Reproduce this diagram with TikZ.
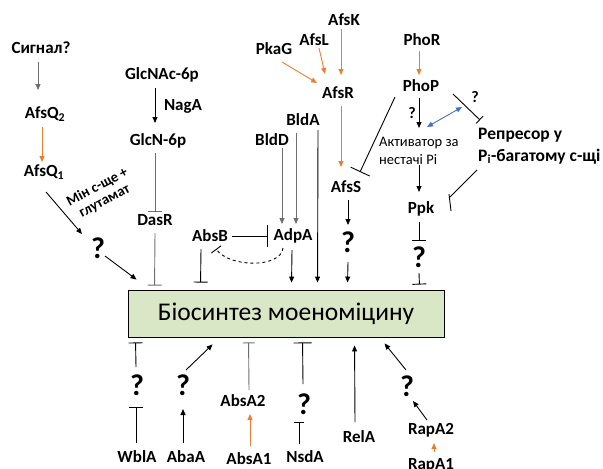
\documentclass[tikz,border=0pt]{standalone}
\usepackage{fontspec}
\setmainfont{Carlito}
\usetikzlibrary{arrows.meta,calc}
\definecolor{org}{HTML}{ED7D31}
\definecolor{blu}{HTML}{4472C4}
\definecolor{boxg}{HTML}{D9E7C7}
\definecolor{gry}{HTML}{6E6E6E}
\begin{document}
\begin{tikzpicture}[x=1pt,y=-1pt,
  lbl/.style={font=\bfseries\fontsize{17}{19}\selectfont, inner sep=0pt},
  qm/.style={font=\bfseries\fontsize{30}{30}\selectfont, inner sep=0pt},
  qs/.style={font=\bfseries\fontsize{16}{18}\selectfont, inner sep=0pt},
  ln/.style={line width=0.9pt},
  arr/.style={ln, -{Triangle[length=6pt,width=5pt]}},
  oarr/.style={arr, draw=org},
  inh/.style={ln, -{Bar[width=#1]}},
  inh/.default=14pt
]
\useasboundingbox (0,0) rectangle (603,469);

% main box
\node[draw=black, line width=0.9pt, fill=boxg, minimum width=316pt, minimum height=47pt, inner sep=0pt,
      font=\fontsize{25.5}{27}\selectfont] (box) at (286,313.5) {Біосинтез моеноміцину};

% left column
\node[lbl] (sig) at (41,48) {Сигнал?};
\node[lbl] (q2) at (45,114) {AfsQ\textsubscript{2}};
\node[lbl] (q1) at (44,172) {AfsQ\textsubscript{1}};
\node[font=\bfseries\fontsize{14.5}{15.5}\selectfont, rotate=28, align=center, inner sep=0pt] (min) at (101,194) {Мін с-ще +\\глутамат};
\node[qm] (qa) at (98,248) {?};

% GlcNAc column
\node[lbl] (glcnac) at (162,75) {GlcNAc-6p};
\node[lbl] (naga) at (183,106) {NagA};
\node[lbl] (glcn) at (158,141) {GlcN-6p};
\node[lbl] (dasr) at (155,220) {DasR};

% middle
\node[lbl] (absb) at (210,236) {AbsB};
\node[lbl] (adpa) at (293,236) {AdpA};
\node[lbl] (bldd) at (272,140) {BldD};
\node[lbl] (blda) at (303,120) {BldA};
\node[lbl] (afsk) at (344,20) {AfsK};
\node[lbl] (afsl) at (314,40) {AfsL};
\node[lbl] (pkag) at (274,49) {PkaG};
\node[lbl] (afsr) at (338,93) {AfsR};
\node[lbl] (afss) at (346,187) {AfsS};
\node[qm] (qb) at (348,242) {?};

% right
\node[lbl] (phor) at (422,40) {PhoR};
\node[lbl] (phop) at (421,86) {PhoP};
\node[qs] (qc) at (412,113) {?};
\node[qs] (qd) at (475,97) {?};
\node[font=\fontsize{14.5}{17.5}\selectfont, align=left, anchor=west, inner sep=0pt] (act) at (379,151) {Активатор за\\нестачі Pi};
\node[lbl, align=left, anchor=west, font=\bfseries\fontsize{17.5}{21.5}\selectfont] (rep) at (478,146) {Репресор у\\P\textsubscript{i}-багатому с-щі};
\node[lbl] (ppk) at (421,209) {Ppk};
\node[qm] (qe) at (419,257) {?};

% bottom
\node[lbl] (wbla) at (137,457) {WblA};
\node[qm] (qf) at (137,385) {?};
\node[lbl] (abaa) at (186,457) {AbaA};
\node[qm] (qg) at (183,385) {?};
\node[lbl] (absa1) at (249,459) {AbsA1};
\node[lbl] (absa2) at (243,401) {AbsA2};
\node[lbl] (nsda) at (305,457) {NsdA};
\node[qm] (qh) at (304,404) {?};
\node[lbl] (rela) at (359,437) {RelA};
\node[qm] (qi) at (407,386) {?};
\node[lbl] (rapa2) at (431,430) {RapA2};
\node[lbl] (rapa1) at (431,465) {RapA1};

% ---- connectors ----
\draw[arr, draw=gry] ($(sig)+(-3,14)$) -- ($(q2)+(-7,-24)$);
\draw[oarr] ($(q2)+(-3,13)$) -- ($(q1)+(-2,-10)$);
\draw[arr] ($(q1)+(2,20)$) -- ($(qa)+(-16,-14)$);
\draw[arr] ($(qa)+(7,8)$) -- ($(box.north west)+(9,-10)$);

\draw[arr] ($(glcnac)+(-7,13)$) -- ($(glcn)+(-3,-18)$);
\draw[inh, draw=gry] ($(glcn)+(-3,12)$) -- ($(dasr)+(0,-8)$);
\draw[inh, draw=gry] ($(dasr)+(0,13)$) -- ($(box.north west)+(27,-4)$);

\draw[inh=22pt] ($(absb)+(22,0)$) -- ($(adpa)+(-25,0)$);
\draw[inh] ($(absb)+(-9,13)$) -- ($(box.north west)+(73,-7)$);
\draw[ln, dashed, -{Bar[width=12pt]}] ($(adpa)+(-10,12)$) .. controls ($(adpa)+(-12,32)$) and ($(absb)+(20,32)$) .. ($(absb)+(6,13)$);
\draw[arr] ($(adpa)+(-1,14)$) -- ($(box.north west)+(164,-7)$);
\draw[arr, draw=gry] ($(bldd)+(10,8)$) -- ($(adpa)+(-11,-12)$);
\draw[arr, draw=gry] ($(blda)+(-7,13)$) -- ($(adpa)+(3,-12)$);
\draw[arr] ($(blda)+(15,10)$) -- ($(box.north west)+(190,-7)$);

\draw[oarr] ($(afsk)+(-3,9)$) -- ($(afsr)+(3,-18)$);
\draw[oarr] ($(afsl)+(5,8)$) -- ($(afsr)+(-13,-19)$);
\draw[oarr] ($(pkag)+(8,13)$) -- ($(afsr)+(-21,-10)$);
\draw[oarr] ($(afsr)+(3,13)$) -- ($(afss)+(-5,-20)$);
\draw[arr] ($(afss)+(2,13)$) -- ($(qb)+(0,-17)$);
\draw[arr] ($(qb)+(0,20)$) -- ($(box.north west)+(220,-7)$);

\draw[inh=21pt] ($(phop)+(-26,11)$) -- ($(afss)+(14,-15)$);
\draw[oarr] ($(phor)+(-3,11)$) -- ($(phop)+(-2,-11)$);
\draw[arr] ($(phop)+(-2,12)$) -- ($(act.west)+(40,-23)$);
\draw[ln, draw=blu, {Triangle[length=6pt,width=5pt]}-{Triangle[length=6pt,width=5pt]}] ($(act.west)+(48,-24)$) -- ($(rep.west)+(-16,-39)$);
\draw[inh=10pt] ($(phop)+(32,8)$) -- ($(rep.west)+(2,-26)$);
\draw[arr] ($(act.west)+(40,14)$) -- ($(ppk)+(-2,-17)$);
\draw[ln] ($(rep.west)+(-1,24)$) -- ($(ppk)+(29,-12)$);
\draw[ln] ($(ppk)+(28,-15)$) -- ($(ppk)+(30,2)$);
\draw[inh] ($(ppk)+(-2,13)$) -- ($(qe)+(0,-16)$);
\draw[inh] ($(qe)+(0,16)$) -- ($(box.north east)+(-25,-5)$);

\draw[inh] ($(wbla)+(-1,-14)$) -- ($(qf)+(-1,22)$);
\draw[inh] ($(qf)+(-1,-18)$) -- ($(box.south west)+(8,5)$);
\draw[arr] ($(abaa)+(-3,-14)$) -- ($(qg)+(0,24)$);
\draw[arr] ($(qg)+(3,-15)$) -- ($(box.south west)+(85,7)$);
\draw[oarr] ($(absa1)+(1,-13)$) -- ($(absa2)+(7,13)$);
\draw[inh=12pt, draw=gry] ($(absa2)+(6,-11)$) -- ($(box.south west)+(121,5)$);
\draw[inh=10pt] ($(nsda)+(-6,-13)$) -- ($(qh)+(-5,18)$);
\draw[inh=18pt] ($(qh)+(-1,-20)$) -- ($(box.south west)+(175,5)$);
\draw[arr] ($(rela)+(-4,-15)$) -- ($(box.south west)+(227,8)$);
\draw[arr] ($(qi)+(-1,-16)$) -- ($(box.south west)+(257,6)$);
\draw[arr] ($(rapa2)+(-4,-10)$) -- ($(qi)+(6,15)$);
\draw[oarr] ($(rapa1)+(3,-13)$) -- ($(rapa2)+(3,13)$);
\end{tikzpicture}
\end{document}
